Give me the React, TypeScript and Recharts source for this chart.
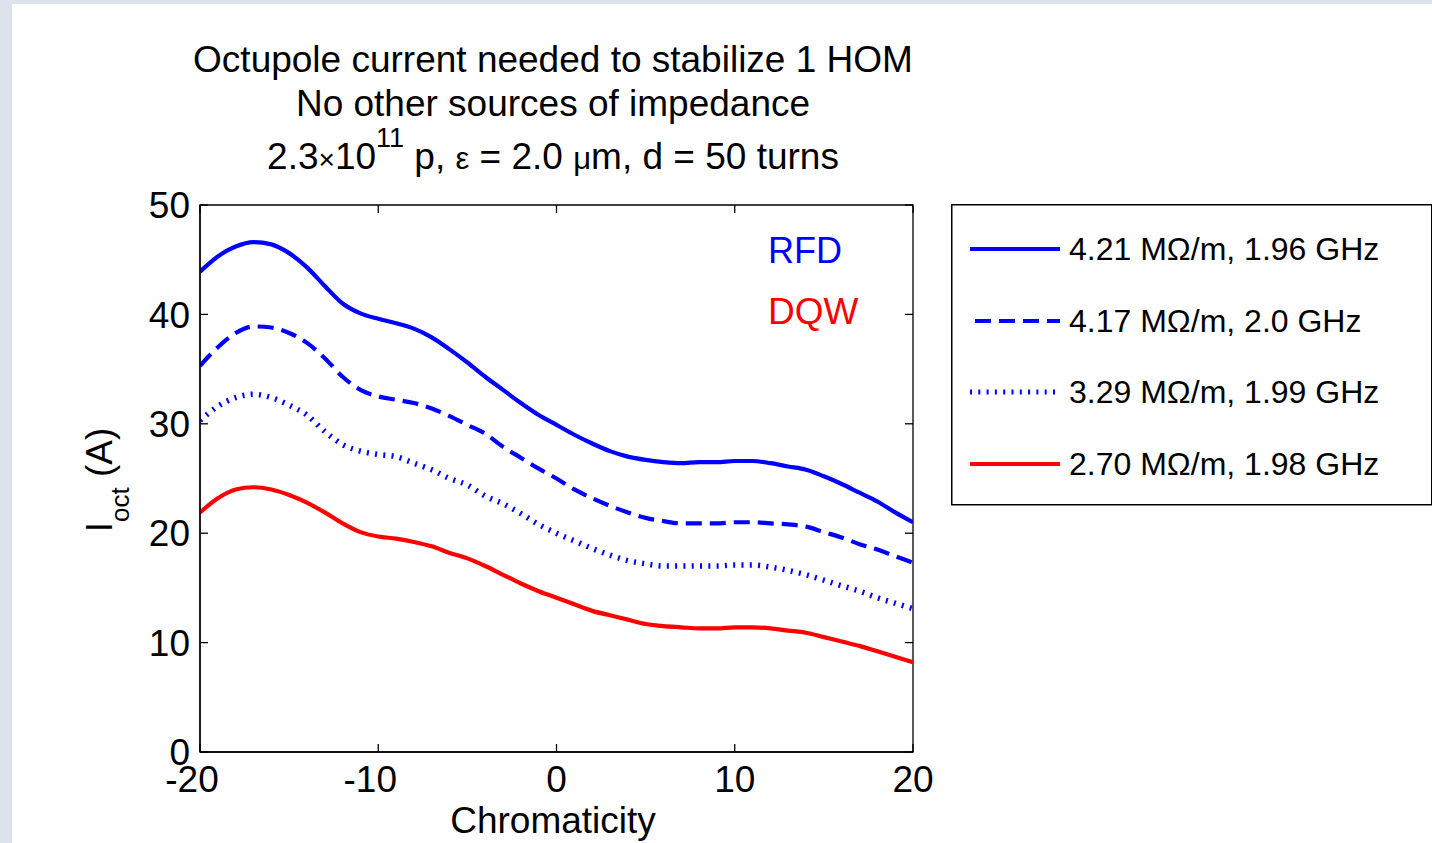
import React from "react";
import { LineChart, Line, XAxis, YAxis, Legend, ReferenceArea } from "recharts";

const FONT = '"Liberation Sans", Arial, Helvetica, sans-serif';

// chromaticity values (x)
const chromaticity = [
  -20, -19, -18, -17, -16, -15, -14, -13, -12, -11, -10, -9, -8, -7, -6, -5, -4, -3, -2, -1,
  0, 1, 2, 3, 4, 5, 6, 7, 8, 9, 10, 11, 12, 13, 14, 15, 16, 17, 18, 19, 20,
];

// octupole current (A) for each HOM
const rfd421 = [
  43.9, 45.3, 46.2, 46.6, 46.4, 45.6, 44.3, 42.6, 41.0, 40.1, 39.6, 39.2, 38.7, 37.9, 36.8, 35.6,
  34.3, 33.1, 31.9, 30.8, 29.9, 29.0, 28.2, 27.5, 27.0, 26.7, 26.5, 26.4, 26.5, 26.5, 26.6, 26.6,
  26.4, 26.1, 25.8, 25.2, 24.5, 23.7, 22.9, 21.9, 21.0,
];
const rfd417 = [
  35.3, 37.0, 38.3, 38.9, 38.8, 38.3, 37.4, 36.0, 34.3, 33.1, 32.5, 32.2, 31.9, 31.4, 30.7, 29.9,
  29.1, 27.9, 26.9, 25.9, 25.0, 24.0, 23.2, 22.5, 21.9, 21.4, 21.1, 20.9, 20.9, 20.9, 21.0, 21.0,
  20.9, 20.8, 20.6, 20.1, 19.6, 19.0, 18.5, 17.9, 17.3,
];
const rfd329 = [
  30.3, 31.6, 32.4, 32.7, 32.4, 31.7, 30.8, 29.3, 28.1, 27.5, 27.2, 27.0, 26.4, 25.8, 25.0, 24.4,
  23.4, 22.7, 21.8, 20.8, 20.0, 19.3, 18.6, 18.0, 17.5, 17.2, 17.0, 17.0, 17.0, 17.0, 17.1, 17.1,
  16.9, 16.6, 16.2, 15.7, 15.2, 14.7, 14.1, 13.6, 13.1,
];
const dqw270 = [
  21.9, 23.2, 24.0, 24.2, 24.0, 23.5, 22.8, 21.9, 20.9, 20.1, 19.7, 19.5, 19.2, 18.8, 18.2, 17.7,
  17.0, 16.2, 15.4, 14.7, 14.1, 13.5, 12.9, 12.5, 12.1, 11.7, 11.5, 11.4, 11.3, 11.3, 11.4, 11.4,
  11.3, 11.1, 10.9, 10.5, 10.1, 9.7, 9.2, 8.7, 8.2,
];

const seriesNames = [
  "4.21 MΩ/m, 1.96 GHz",
  "4.17 MΩ/m, 2.0 GHz",
  "3.29 MΩ/m, 1.99 GHz",
  "2.70 MΩ/m, 1.98 GHz",
];
const xTicks = [-20, -10, 0, 10, 20];
const yTicks = [0, 10, 20, 30, 40, 50];

const data = chromaticity.map((c, i) => ({
  c,
  s1: rfd421[i],
  s2: rfd417[i],
  s3: rfd329[i],
  s4: dqw270[i],
}));

const styles = [
  { key: "s1", color: "#0000ff", dash: undefined, width: 4.2 },
  { key: "s2", color: "#0000ff", dash: "16 8", width: 4.2 },
  { key: "s3", color: "#0000ff", dash: "2 6.3", width: 5.5 },
  { key: "s4", color: "#ff0000", dash: undefined, width: 4.2 },
];

// chart layout (px inside the white panel)
const W = 1420;
const H = 839;
const PLOT_LEFT = 188;
const PLOT_RIGHT = 901;
const PLOT_TOP = 201;
const PLOT_BOTTOM = 748;
const Y_AXIS_W = 80;
const X_AXIS_H = 60;
const TICK = 8;
const X_GAP = 14;
const Y_GAP = 10;

const XTick = (props: any) => {
  const { x, y, payload } = props;
  const v = payload.value;
  const axisY = y - X_GAP;
  return (
    <g>
      <line x1={x} x2={x} y1={axisY} y2={axisY - TICK} stroke="#000" strokeWidth={1.3} />
      <line x1={x} x2={x} y1={PLOT_TOP} y2={PLOT_TOP + TICK} stroke="#000" strokeWidth={1.3} />
      <text
        x={x}
        y={y}
        dx={v < 0 ? -8 : 0}
        dy="0.71em"
        textAnchor="middle"
        fontSize={37}
        fontFamily={FONT}
        fill="#000"
      >
        {v}
      </text>
    </g>
  );
};

const YTick = (props: any) => {
  const { x, y, payload } = props;
  const axisX = x + Y_GAP;
  return (
    <g>
      <line x1={axisX} x2={axisX + TICK} y1={y} y2={y} stroke="#000" strokeWidth={1.3} />
      <line x1={PLOT_RIGHT - TICK} x2={PLOT_RIGHT} y1={y} y2={y} stroke="#000" strokeWidth={1.3} />
      <text
        x={x}
        y={y}
        dy="0.355em"
        textAnchor="end"
        fontSize={37}
        fontFamily={FONT}
        fill="#000"
      >
        {payload.value}
      </text>
    </g>
  );
};

const rowY = [45, 117, 188, 260];

const renderLegend = () => (
  <svg width={482} height={302} style={{ display: "block" }}>
    <rect x={0.75} y={0.75} width={480} height={300} fill="#fff" stroke="#000" strokeWidth={1.5} />
    {styles.map((s, i) => (
      <g key={s.key}>
        <line
          x1={s.dash === "16 8" ? 24 : 19}
          x2={109}
          y1={rowY[i]}
          y2={rowY[i]}
          stroke={s.color}
          strokeWidth={s.dash === "2 6.3" ? 5 : 4}
          strokeDasharray={s.dash}
        />
        <text x={118} y={rowY[i] + 11} fontSize={32} fontFamily={FONT} fill="#000">
          {seriesNames[i]}
        </text>
      </g>
    ))}
  </svg>
);

export default function App() {
  return (
    <div
      style={{
        position: "fixed",
        left: 0,
        top: 0,
        width: 1432,
        height: 843,
        background: "#dce3ea",
        overflow: "hidden",
      }}
    >
      <div
        style={{
          position: "absolute",
          left: 12,
          top: 4,
          width: W,
          height: H,
          background: "#fff",
        }}
      >
        <LineChart
          width={W}
          height={H}
          data={data}
          margin={{
            top: PLOT_TOP,
            right: W - PLOT_RIGHT,
            bottom: H - PLOT_BOTTOM - X_AXIS_H,
            left: PLOT_LEFT - Y_AXIS_W,
          }}
        >
          <XAxis
            dataKey="c"
            type="number"
            domain={[-20, 20]}
            ticks={xTicks}
            interval={0}
            allowDataOverflow
            height={X_AXIS_H}
            tickSize={0}
            tickMargin={X_GAP}
            tickLine={false}
            axisLine={{ stroke: "#000", strokeWidth: 1.3 }}
            tick={<XTick />}
          />
          <YAxis
            type="number"
            domain={[0, 50]}
            ticks={yTicks}
            interval={0}
            allowDataOverflow
            width={Y_AXIS_W}
            tickSize={0}
            tickMargin={Y_GAP}
            tickLine={false}
            axisLine={{ stroke: "#000", strokeWidth: 1.3 }}
            tick={<YTick />}
          />
          <ReferenceArea
            x1={-20}
            x2={20}
            y1={0}
            y2={50}
            fill="none"
            fillOpacity={0}
            stroke="#000"
            strokeWidth={1.3}
            ifOverflow="visible"
          />
          {styles.map((s, i) => (
            <Line
              key={s.key}
              dataKey={s.key}
              name={seriesNames[i]}
              type="monotone"
              stroke={s.color}
              strokeWidth={s.width}
              strokeDasharray={s.dash}
              dot={false}
              activeDot={false}
              isAnimationActive={false}
            />
          ))}
          <Legend
            layout="vertical"
            align="center"
            verticalAlign="middle"
            wrapperStyle={{ left: 939, top: 200, width: 482, height: 302 }}
            content={renderLegend}
          />
        </LineChart>
      </div>
      <svg
        width={1432}
        height={843}
        style={{ position: "absolute", left: 0, top: 0, pointerEvents: "none" }}
        fontFamily={FONT}
      >
        <text x={553} y={72} textAnchor="middle" fontSize={37} fill="#000">
          Octupole current needed to stabilize 1 HOM
        </text>
        <text x={553} y={116} textAnchor="middle" fontSize={37} fill="#000">
          No other sources of impedance
        </text>
        <text x={553} y={169} textAnchor="middle" fontSize={37} fill="#000">
          <tspan>2.3</tspan>
          <tspan fontSize={28}>×</tspan>
          <tspan>10</tspan>
          <tspan fontSize={27} dy={-22}>11</tspan>
          <tspan dy={22}> p, </tspan>
          <tspan fontSize={31}>ε</tspan>
          <tspan> = 2.0 </tspan>
          <tspan fontSize={31}>μ</tspan>
          <tspan>m, d = 50 turns</tspan>
        </text>
        <text x={768} y={263} fontSize={36} fill="#0000ff">
          RFD
        </text>
        <text x={768} y={324} fontSize={37} fill="#ff0000">
          DQW
        </text>
        <text x={553} y={833} textAnchor="middle" fontSize={37} fill="#000">
          Chromaticity
        </text>
        <text
          x={112}
          y={480}
          transform="rotate(-90 112 480)"
          textAnchor="middle"
          fontSize={37}
          fill="#000"
        >
          <tspan>I</tspan>
          <tspan fontSize={26} dy={17}>oct</tspan>
          <tspan dy={-17}> (A)</tspan>
        </text>
      </svg>
    </div>
  );
}
